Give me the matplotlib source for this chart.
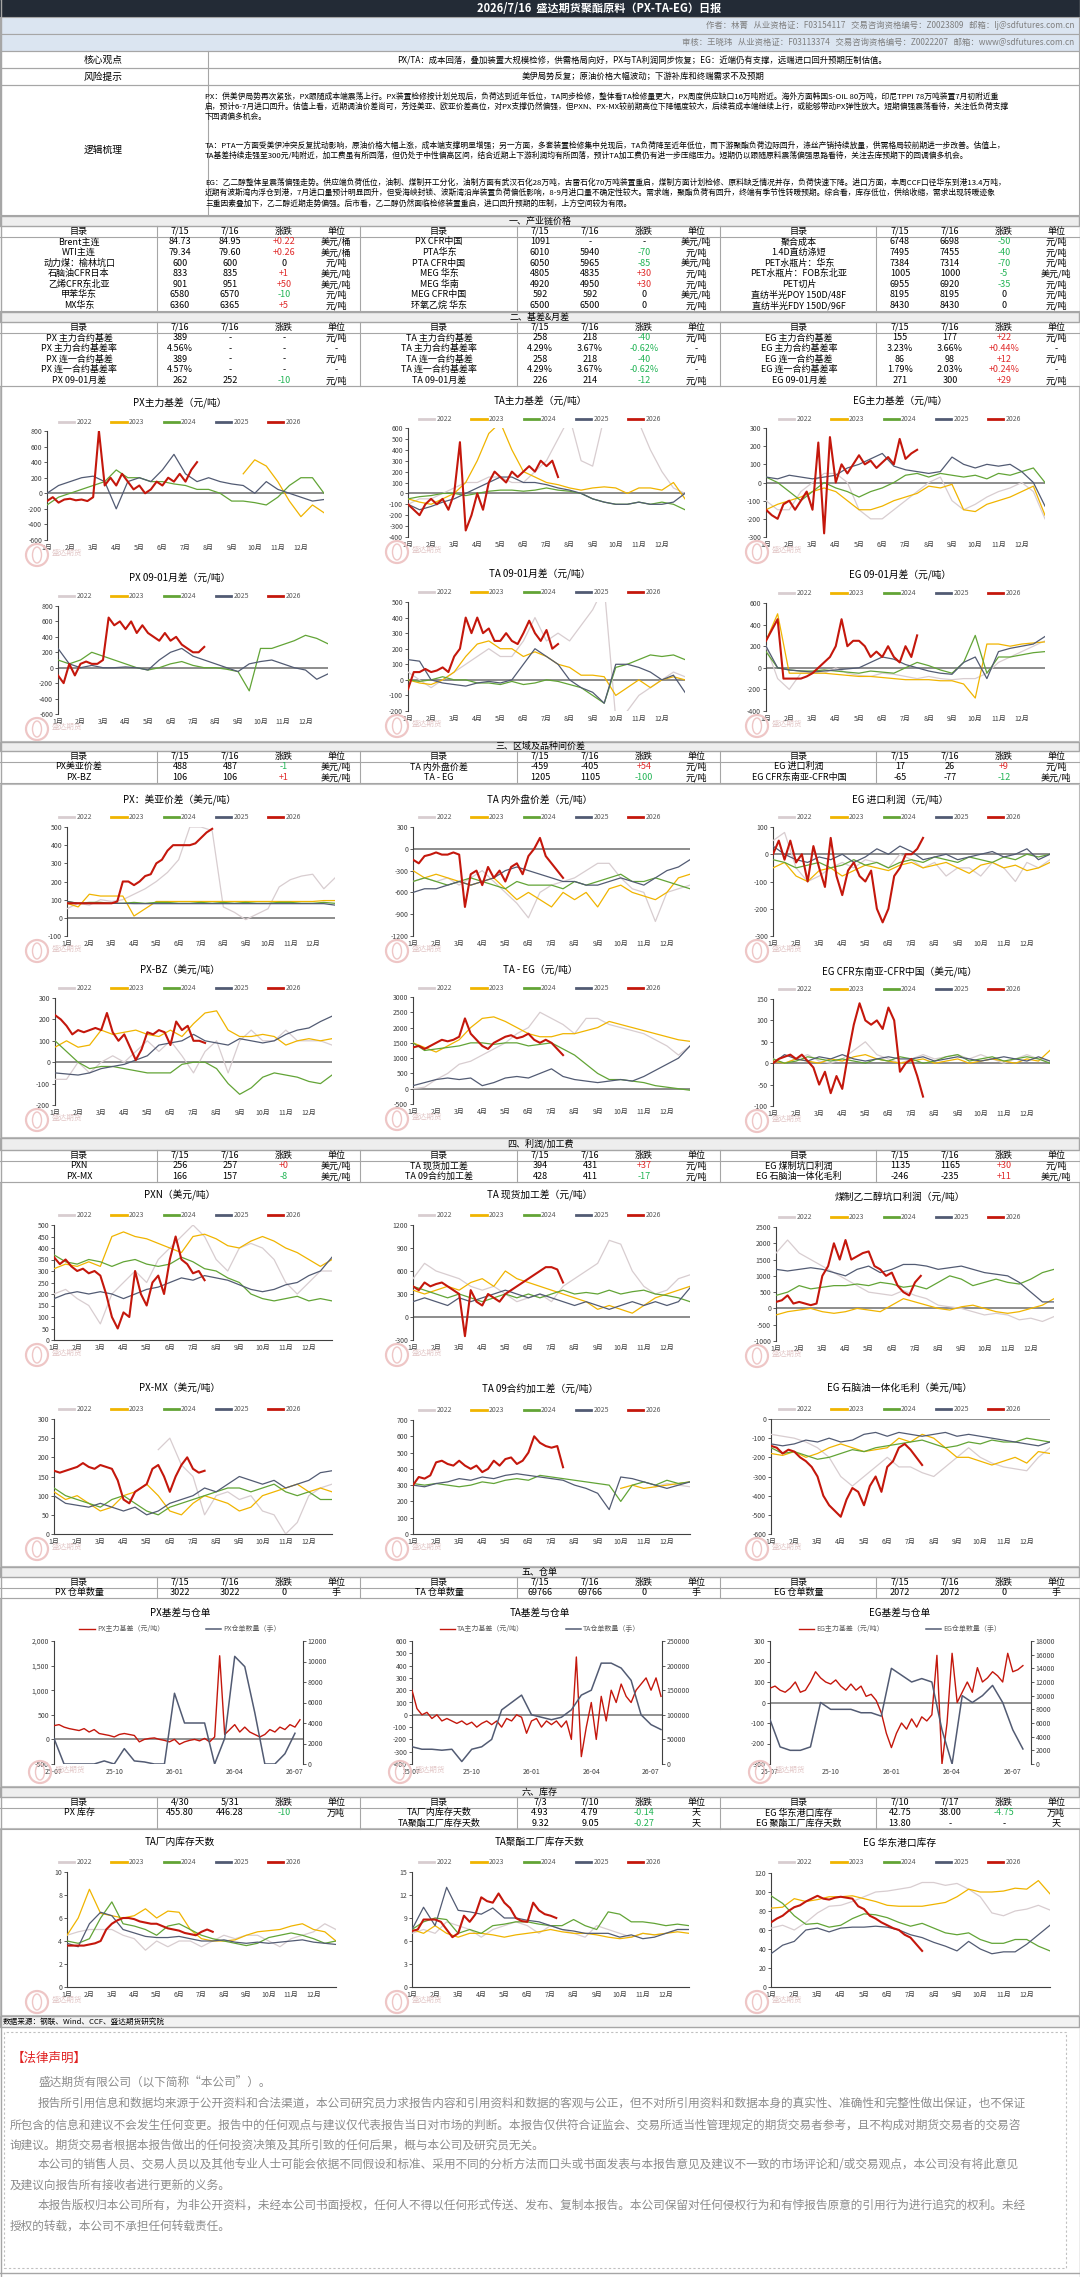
import numpy as np
import matplotlib
matplotlib.use('Agg')
import matplotlib.pyplot as plt
from matplotlib.patches import Rectangle, Ellipse
from matplotlib.lines import Line2D
from matplotlib.ticker import FuncFormatter

plt.rcParams['font.family'] = ['Noto Sans CJK SC', 'DejaVu Sans']
plt.rcParams['axes.unicode_minus'] = False

nan = np.nan

# ---------------- 表格数据 ----------------
sec1_rows = [
    [('Brent主连', '84.73', '84.95', '+0.22', '美元/桶'), ('PX CFR中国', '1091', '-', '-', '美元/吨'), ('聚合成本', '6748', '6698', '-50', '元/吨')],
    [('WTI主连', '79.34', '79.60', '+0.26', '美元/桶'), ('PTA华东', '6010', '5940', '-70', '元/吨'), ('1.4D直纺涤短', '7495', '7455', '-40', '元/吨')],
    [('动力煤：榆林坑口', '600', '600', '0', '元/吨'), ('PTA CFR中国', '6050', '5965', '-85', '美元/吨'), ('PET水瓶片：华东', '7384', '7314', '-70', '元/吨')],
    [('石脑油CFR日本', '833', '835', '+1', '美元/吨'), ('MEG 华东', '4805', '4835', '+30', '元/吨'), ('PET水瓶片：FOB东北亚', '1005', '1000', '-5', '美元/吨')],
    [('乙烯CFR东北亚', '901', '951', '+50', '美元/吨'), ('MEG 华南', '4920', '4950', '+30', '元/吨'), ('PET切片', '6955', '6920', '-35', '元/吨')],
    [('甲苯华东', '6580', '6570', '-10', '元/吨'), ('MEG CFR中国', '592', '592', '0', '美元/吨'), ('直纺半光POY 150D/48F', '8195', '8195', '0', '元/吨')],
    [('MX华东', '6360', '6365', '+5', '元/吨'), ('环氧乙烷 华东', '6500', '6500', '0', '元/吨'), ('直纺半光FDY 150D/96F', '8430', '8430', '0', '元/吨')],
]
sec2_rows = [
    [('PX 主力合约基差', '389', '-', '-', '元/吨'), ('TA 主力合约基差', '258', '218', '-40', '元/吨'), ('EG 主力合约基差', '155', '177', '+22', '元/吨')],
    [('PX 主力合约基差率', '4.56%', '-', '-', '-'), ('TA 主力合约基差率', '4.29%', '3.67%', '-0.62%', '-'), ('EG 主力合约基差率', '3.23%', '3.66%', '+0.44%', '-')],
    [('PX 连一合约基差', '389', '-', '-', '元/吨'), ('TA 连一合约基差', '258', '218', '-40', '元/吨'), ('EG 连一合约基差', '86', '98', '+12', '元/吨')],
    [('PX 连一合约基差率', '4.57%', '-', '-', '-'), ('TA 连一合约基差率', '4.29%', '3.67%', '-0.62%', '-'), ('EG 连一合约基差率', '1.79%', '2.03%', '+0.24%', '-')],
    [('PX 09-01月差', '262', '252', '-10', '元/吨'), ('TA 09-01月差', '226', '214', '-12', '元/吨'), ('EG 09-01月差', '271', '300', '+29', '元/吨')],
]
sec3_rows = [
    [('PX美亚价差', '488', '487', '-1', '美元/吨'), ('TA 内外盘价差', '-459', '-405', '+54', '元/吨'), ('EG 进口利润', '17', '26', '+9', '元/吨')],
    [('PX-BZ', '106', '106', '+1', '美元/吨'), ('TA - EG', '1205', '1105', '-100', '元/吨'), ('EG CFR东南亚-CFR中国', '-65', '-77', '-12', '美元/吨')],
]
sec4_rows = [
    [('PXN', '256', '257', '+0', '美元/吨'), ('TA 现货加工差', '394', '431', '+37', '元/吨'), ('EG 煤制坑口利润', '1135', '1165', '+30', '元/吨')],
    [('PX-MX', '166', '157', '-8', '美元/吨'), ('TA 09合约加工差', '428', '411', '-17', '元/吨'), ('EG 石脑油一体化毛利', '-246', '-235', '+11', '美元/吨')],
]
sec5_rows = [
    [('PX 仓单数量', '3022', '3022', '0', '手'), ('TA 仓单数量', '69766', '69766', '0', '手'), ('EG 仓单数量', '2072', '2072', '0', '手')],
]
sec6_rows = [
    [('PX 库存', '455.80', '446.28', '-10', '万吨'), ('TA厂内库存天数', '4.93', '4.79', '-0.14', '天'), ('EG 华东港口库存', '42.75', '38.00', '-4.75', '万吨')],
    [None, ('TA聚酯工厂库存天数', '9.32', '9.05', '-0.27', '天'), ('EG 聚酯工厂库存天数', '13.80', '-', '-', '天')],
]
hdr_std = ['目录', '7/15', '7/16', '涨跌', '单位']
hdr_sec2 = [['目录', '7/16', '7/16', '涨跌', '单位'], hdr_std, hdr_std]
hdr_sec6 = [['目录', '4/30', '5/31', '涨跌', '单位'], ['目录', '7/3', '7/10', '涨跌', '单位'], ['目录', '7/10', '7/17', '涨跌', '单位']]

# ---------------- 季节图数据（半月一点，2026年按周） ----------------
px_basis = {
    2023: [nan] * 17 + [250, 430, 350, 150, -100, -300, -150, -250],
    2024: [-150, -50, 0, 50, 100, 150, 300, 200, 200, 150, 150, 120, 100, 50, 50, 0, -100, -100, -120, -150, -50, 100, 200, 200, 0],
    2025: [0, 100, 150, 200, 220, 150, -200, 150, 200, 150, 300, 500, 250, 150, 200, 150, 120, 100, 0, 150, 50, 0, -50, -100, -80],
    2026: [-100, -50, -120, -80, -70, -90, -80, -100, -50, 800, 100, 200, 100, 250, 150, 50, 100, 0, 50, 150, 100, 200, 150, 250, 150, 300, 400],
}
ta_basis = {
    2022: [-100, -50, -50, 0, 50, 100, 100, 150, 150, 100, 100, 200, 300, 500, 700, 300, 250, 700, 700, 700, 650, 400, 200, 50, 0],
    2023: [-50, -80, -100, -50, 0, 100, 300, 550, 650, 400, 200, 150, 100, 80, 50, 30, 50, 60, 50, 0, 50, 50, 30, 100, -50],
    2024: [-50, -30, -20, 0, 0, -20, 0, 20, 30, 30, 20, 30, 50, 30, 20, 0, -50, -80, -100, -100, -80, -100, -80, -100, -150],
    2025: [-100, -150, -120, -80, -50, 0, 50, 100, 150, 150, 100, 100, 80, 50, 30, 0, -50, -80, -100, -100, -80, -100, -100, -80, 0],
    2026: [-100, -150, -200, -100, -50, -100, -50, -150, 0, 470, -340, -200, 0, -150, 100, 200, 150, 100, 200, 150, 200, 250, 200, 300, 250, 300, 150],
}
eg_basis = {
    2022: [-100, -150, -150, -50, 0, 50, 50, 0, -150, -200, -200, -150, -100, -50, 0, 30, -100, -150, -120, -80, -50, -30, 0, -50, -200],
    2023: [-150, -120, -100, -80, -50, -30, -50, -100, -150, -150, -130, -100, -80, -60, -20, -30, -10, -150, -160, -120, -100, -80, -50, -20, -180],
    2024: [30, 0, -50, -100, -50, 0, -30, -50, -80, -50, -30, 0, 40, 50, 30, 50, 40, 30, 40, 20, 50, 40, 60, 80, 0],
    2025: [30, 20, 40, 30, 20, 30, 40, 80, 100, 130, 160, 90, 70, 60, 50, 60, 140, 100, 80, 100, 90, 100, 60, 0, -130],
    2026: [-150, -180, -200, -120, -100, -150, -100, -50, -150, 220, -280, 250, 0, 100, 50, 100, 150, 100, 120, 80, 110, 140, 100, 240, 130, 160, 180],
}
px_spread = {
    2024: [100, 50, 100, 200, 150, 100, 50, 0, -30, 0, 50, 80, 30, 0, 0, -20, -50, -300, 250, 250, 300, 350, 420, 380, 310],
    2025: [250, 50, 0, 30, 0, 0, 10, 0, -30, 100, 200, 250, 150, 100, 50, 0, -50, 50, 80, 100, 50, 0, -30, -150, -80],
    2026: [-100, -200, 50, -100, 50, 80, 50, 50, 100, 650, 550, 600, 500, 600, 450, 550, 450, 400, 350, 450, 350, 400, 300, 250, 200, 200, 270],
}
ta_spread = {
    2022: [50, 0, -50, 0, 50, 100, 150, 200, 150, 150, 250, 400, 250, 300, 250, 350, 450, 600, -250, -200, -100, -50, 0, 50, 20],
    2023: [0, -20, -30, 0, 50, 150, 230, 250, 200, 200, 150, 180, 150, 100, 80, 30, 30, 20, -100, -50, 0, -50, 0, 20, 0],
    2024: [0, -10, 0, 20, 0, 0, -20, -20, -30, -10, -30, -20, 0, -10, -30, -50, -100, -150, 80, 100, 130, 160, 150, 160, 130],
    2025: [130, 120, 0, -20, -30, -40, -20, -10, -20, 0, 100, 200, 150, 100, 0, -50, -80, -150, 100, 100, 80, 50, 0, 30, -80],
    2026: [-60, 50, 50, 70, 50, 60, 80, 50, 150, 200, 400, 300, 400, 300, 330, 250, 250, 300, 250, 230, 300, 380, 300, 250, 320, 200, 230],
}
eg_spread = {
    2022: [200, -100, -200, -50, -50, -50, 0, -50, -70, -80, -50, -60, -80, -100, -80, -100, -110, -100, -100, -50, 50, 100, 150, 200, 250],
    2023: [250, 500, -50, -50, -50, -50, -60, -70, -80, -80, -90, -100, -110, -110, -110, -120, -120, -150, -280, 220, 220, 200, 220, 230, 240],
    2024: [150, 0, -20, -30, -30, -20, -30, -40, -50, -30, -40, -50, 0, 50, 20, -20, -50, 50, 300, -50, 100, 100, 120, 140, 150],
    2025: [200, 0, -20, -30, -40, -30, -20, -10, 0, 50, 100, 80, 30, 0, -30, -50, -60, 50, 100, -100, 150, 180, 200, 220, 290],
    2026: [250, 350, 450, -100, -100, -100, -100, -80, -50, 0, 50, 100, 200, 450, 200, 250, 250, 200, 100, 150, 100, 200, 100, 50, 200, 100, 300],
}
px_asia = {
    2022: [50, 80, 70, 100, 90, 100, 130, 160, 200, 250, 320, 500, 500, 480, 60, 30, -10, 20, 50, 170, 210, 230, 240, 160, 220],
    2023: [80, 60, 130, 120, 120, 120, 10, 50, 90, 90, 90, 90, 90, 90, 90, 90, 90, 90, 90, 90, 90, 90, 90, 95, 95],
    2024: [90, 80, 85, 85, 80, 80, 85, 80, 85, 85, 80, 80, 85, 80, 85, 80, 85, 80, 80, 85, 85, 80, 80, 85, 80],
    2025: [90, 80, 80, 80, 80, 80, 78, 78, 78, 78, 78, 78, 78, 78, 78, 78, 78, 78, 78, 78, 78, 78, 78, 78, 70],
    2026: [80, 80, 80, 80, 80, 80, 80, 80, 80, 90, 200, 200, 180, 200, 230, 240, 300, 320, 370, 400, 400, 400, 400, 410, 440, 470, 490],
}
ta_inout = {
    2022: [-450, -400, -450, -400, -500, -400, -300, -450, -600, -750, -950, -600, -500, -450, -400, -300, -200, -200, -400, -550, -600, -1000, -600, -550, -500],
    2023: [-300, -400, -350, -400, -450, -500, -450, -400, -550, -700, -600, -700, -800, -600, -700, -600, -800, -550, -500, -600, -650, -700, -600, -400, -350],
    2024: [-450, -400, -450, -500, -450, -400, -450, -500, -550, -450, -500, -500, -500, -550, -450, -500, -450, -400, -350, -450, -450, -400, -450, -500, -550],
    2025: [-600, -550, -550, -500, -450, -500, -450, -400, -300, -250, -300, -350, -400, -450, -450, -500, -500, -450, -400, -450, -500, -400, -300, -250, -150],
    2026: [-150, -200, -100, -80, -50, -80, -80, -50, -80, -800, -350, -300, -500, -250, -400, -300, -450, -250, -200, -350, -100, 0, 150, -100, -200, -300, -400],
}
eg_import = {
    2022: [50, 80, -50, -100, -80, -50, -30, -50, -20, -30, -50, 0, -20, -50, -30, -80, -50, -50, -80, -30, -50, -100, -30, -50, -20],
    2023: [-50, -30, -80, -100, -60, -50, -80, -60, -40, -50, -60, -40, -30, -50, -40, -30, -50, -70, -40, -30, -50, -40, -60, -50, -30],
    2024: [-20, -30, -50, -40, -30, -50, -40, -20, -40, -30, -50, -30, -20, -30, -10, -20, -30, -10, -20, -30, -10, -20, 0, -10, 0],
    2025: [30, 0, -20, -30, -10, -20, 0, -30, -10, 20, 0, 30, 10, -20, -10, 0, -20, -10, 0, 10, -10, 0, 20, -20, 0],
    2026: [0, 50, -20, 50, -30, 0, -100, 30, -50, -120, 60, -80, -150, -60, -30, -80, -100, -60, -200, -250, -200, -80, -50, 0, 0, 20, 60],
}
px_bz = {
    2022: [-80, -80, 0, -50, 0, 30, 0, 50, 100, 50, 100, 30, -50, 50, 100, -50, 100, 150, 100, 100, 150, 100, 100, 100, 80],
    2023: [70, 100, 70, 80, 150, 130, 140, 150, 130, 120, 150, 120, 180, 230, 240, 150, 120, 120, 130, 120, 80, 100, 110, 100, 110],
    2024: [100, 50, 0, -30, -20, -20, -30, -40, -50, -50, -50, -10, 0, 0, -30, -100, -150, -120, -70, -50, -60, -70, -90, -100, -60],
    2025: [-50, -55, -60, -50, -30, -20, -10, 10, 30, 80, 90, 100, 130, 100, 90, 80, 110, 100, 90, 100, 130, 150, 160, 190, 215],
    2026: [220, 200, 170, 130, 150, 140, 150, 160, 150, 230, 140, 100, 130, 70, 10, 60, 140, 130, 150, 140, 80, 190, 150, 170, 100, 100, 90],
}
ta_eg = {
    2022: [0, 50, 300, 500, 800, 900, 1100, 1300, 1500, 1800, 2000, 2500, 2300, 2100, 1800, 2300, 2300, 2100, 2000, 1900, 1800, 1600, 1400, 1100, 1400],
    2023: [1500, 1350, 1200, 1400, 1600, 2000, 2300, 2350, 2200, 2000, 1800, 1700, 1700, 1800, 1800, 1900, 2000, 2200, 2100, 2000, 1900, 1800, 1700, 1600, 1550],
    2024: [1500, 1250, 1300, 1350, 1400, 1500, 1500, 1450, 1500, 1500, 1400, 1450, 1500, 1300, 1100, 800, 500, 300, 300, 250, 200, 100, 50, 0, -50],
    2025: [100, 200, 300, 350, 300, 350, 100, 200, 350, 400, 350, 500, 650, 400, 300, 250, 200, 250, 300, 250, 400, 600, 800, 1000, 1400],
    2026: [1350, 1400, 1300, 1400, 1500, 1600, 1550, 1600, 1700, 2300, 1800, 1600, 1400, 1300, 1500, 1600, 1700, 1750, 1650, 1700, 1800, 1600, 1500, 1600, 1500, 1300, 1100],
}
eg_sea = {
    2022: [10, 0, 10, 20, 5, 0, 10, 30, 50, 20, 10, 0, 10, 20, 10, 15, 20, 10, 20, 10, 0, 10, 20, 10, 5],
    2023: [5, 0, 10, 5, 0, 10, 5, 15, 20, 10, 5, 0, 5, 10, 0, 5, 10, 0, 5, 10, 5, 0, 10, 5, 30],
    2024: [10, 0, 5, 15, 10, 5, 10, 5, 0, 10, 5, 15, 10, 0, 5, 15, 20, 5, 10, 15, 5, 10, 15, 10, 0],
    2025: [0, 20, 10, 5, 15, 10, 20, 10, 5, 10, 15, 10, 10, 15, 5, 10, 15, 10, 5, 10, 15, 10, 5, 15, 5],
    2026: [0, 10, 15, 20, 10, 20, 5, -10, -50, -20, -70, -30, -60, 20, 90, 140, 100, 90, 100, 80, 130, 100, -20, 0, 10, -30, -78],
}
pxn = {
    2022: [200, 220, 180, 150, 70, 200, 250, 300, 250, 350, 400, 450, 500, 450, 350, 300, 400, 420, 400, 350, 250, 200, 250, 300, 300],
    2023: [310, 330, 320, 340, 320, 450, 470, 450, 440, 420, 400, 380, 450, 460, 440, 410, 400, 430, 450, 430, 400, 380, 350, 320, 350],
    2024: [370, 340, 330, 350, 340, 320, 340, 350, 330, 320, 330, 360, 340, 310, 300, 270, 250, 200, 180, 170, 180, 190, 170, 180, 170],
    2025: [180, 200, 210, 200, 210, 200, 180, 200, 220, 230, 250, 270, 260, 280, 270, 260, 240, 220, 210, 220, 240, 250, 280, 300, 360],
    2026: [360, 330, 350, 320, 300, 310, 290, 300, 280, 200, 100, 50, 120, 100, 300, 200, 150, 250, 280, 200, 350, 450, 350, 330, 290, 300, 260],
}
ta_proc = {
    2022: [500, 700, 600, 550, 500, 400, 350, 400, 300, 200, 250, 300, 200, 400, 500, 600, 700, 1000, 950, 600, 400, 300, 350, 500, 550],
    2023: [350, 300, 350, 400, 350, 450, 500, 400, 600, 500, 450, 400, 350, 300, 250, 200, 100, 150, 100, 50, 150, 250, 300, 350, 400],
    2024: [400, 350, 300, 250, 300, 250, 200, 250, 300, 250, 300, 250, 300, 350, 300, 320, 300, 350, 300, 330, 350, 300, 280, 250, 200],
    2025: [200, 250, 200, 150, 250, 200, 250, 300, 350, 300, 250, 300, 250, 200, 150, 200, 150, 100, 150, 200, 150, 200, 150, 200, 380],
    2026: [400, 350, 450, 400, 430, 450, 400, 350, 300, -250, 350, 200, 150, 300, 250, 200, 300, 350, 400, 450, 500, 550, 600, 650, 650, 620, 450],
}
eg_coal = {
    2022: [1700, 2100, 1700, 1500, 1300, 1100, 900, 700, 500, 450, 400, 550, 400, 300, 100, 50, 0, -100, -200, -150, -200, -350, -300, -400, -250],
    2023: [-200, -100, -50, 0, -100, -150, -100, 0, -50, -100, 100, 300, 200, 100, 0, -50, 50, 100, 0, -100, -150, -100, 0, 100, 300],
    2024: [400, 500, 700, 600, 650, 700, 700, 750, 700, 800, 750, 650, 700, 600, 800, 1000, 900, 700, 800, 900, 800, 750, 900, 1100, 1200],
    2025: [1200, 1150, 1200, 1250, 1200, 1100, 1000, 1200, 1300, 1100, 1200, 1350, 1350, 1300, 1200, 1250, 1300, 1200, 1100, 1050, 1000, 800, 500, 200, 200],
    2026: [200, 250, 400, 150, 200, 150, 100, 150, 1000, 1300, 2000, 1500, 2100, 1500, 1600, 1700, 1750, 1300, 1200, 1000, 1100, 700, 500, 400, 800, 1000],
}
px_mx = {
    2022: [nan] * 9 + [220, 250, 180, 150, 50, 100, 110, 90, 100, 60, 50, 0, 30, 100, 120, 130],
    2023: [110, 90, 100, 80, 60, 70, 100, 110, 130, 100, 60, 50, 80, 100, 90, 80, 60, 70, 100, 110, 120, 130, 110, 120, 110],
    2024: [120, 100, 90, 80, 70, 90, 100, 80, 60, 50, 70, 80, 90, 100, 110, 120, 120, 110, 120, 130, 110, 100, 110, 90, 90],
    2025: [100, 80, 75, 70, 80, 70, 60, 70, 50, 60, 80, 90, 100, 120, 110, 130, 150, 140, 130, 140, 120, 130, 140, 160, 165],
    2026: [165, 160, 165, 170, 175, 185, 175, 170, 180, 175, 170, 140, 90, 80, 110, 120, 130, 170, 180, 150, 110, 150, 180, 200, 170, 160, 165],
}
ta_09proc = {
    2022: [nan] * 21 + [290, 310, 300, 290],
    2023: [nan] * 18 + [280, 300, 280, 290, 300, 310, 320],
    2024: [310, 300, 310, 300, 290, 300, 320, 310, 330, 340, 330, 360, 350, 340, 330, 320, 310, 300, 200, 300, 320, 300, 330, 310, 320],
    2025: [300, 290, 310, 320, 340, 330, 350, 340, 360, 370, 360, 350, 340, 330, 300, 280, 250, 150, 350, 340, 320, 300, 280, 300, 320],
    2026: [300, 350, 340, 360, 440, 450, 430, 420, 450, 420, 400, 420, 380, 400, 450, 420, 460, 470, 430, 450, 500, 600, 560, 540, 530, 540, 410],
}
eg_naph = {
    2022: [-80, -90, -100, -120, -150, -200, -300, -350, -300, -250, -200, -250, -250, -280, -300, -250, -200, -150, -200, -230, -250, -260, -270, -200, -150],
    2023: [-180, -190, -170, -200, -180, -150, -130, -150, -170, -160, -150, -100, -120, -80, -100, -150, -200, -200, -220, -240, -220, -200, -230, -170, -180],
    2024: [-150, -180, -170, -190, -210, -200, -180, -160, -170, -150, -140, -130, -120, -110, -130, -150, -140, -120, -130, -110, -120, -120, -100, -110, -120],
    2025: [-130, -140, -130, -110, -120, -100, -120, -110, -80, -70, -90, -70, -80, -90, -80, -70, -90, -80, -90, -100, -110, -120, -130, -140, -120],
    2026: [-140, -150, -180, -160, -170, -200, -220, -250, -300, -400, -450, -480, -510, -420, -360, -380, -450, -350, -300, -380, -250, -220, -150, -130, -160, -200, -240],
}
ta_days = {
    2022: [4.5, 4.8, 5.0, 5.0, 5.0, 4.5, 4.2, 3.2, 4.0, 3.5, 4.0, 4.0, 3.5, 4.0, 4.5, 4.2, 4.5, 4.5, 4.0, 3.5, 4.2, 4.5, 4.8, 5.5, 5.0],
    2023: [4.5, 6.0, 8.5, 6.4, 6.2, 6.0, 6.2, 6.8, 6.0, 6.6, 6.5, 5.0, 4.2, 4.0, 4.0, 4.1, 4.5, 4.8, 4.9, 5.0, 5.3, 5.5, 5.0, 4.8, 4.0],
    2024: [4.0, 3.8, 4.2, 6.0, 7.4, 5.5, 5.3, 5.0, 4.5, 5.3, 5.5, 5.0, 4.5, 4.2, 4.0, 3.8, 3.6, 3.8, 4.3, 4.5, 4.7, 4.5, 4.2, 3.8, 4.0],
    2025: [3.8, 3.5, 5.5, 6.5, 6.2, 5.0, 4.7, 4.4, 4.3, 4.3, 4.4, 4.2, 4.0, 4.0, 4.1, 3.9, 3.8, 3.9, 3.8, 3.9, 4.0, 4.1, 3.9, 3.8, 3.7],
    2026: [3.6, 3.6, 3.6, 3.6, 3.7, 3.8, 4.0, 5.0, 5.5, 5.8, 6.0, 6.0, 5.9, 5.7, 5.6, 5.5, 5.5, 5.3, 5.1, 5.0, 4.9, 4.7, 4.6, 4.5, 4.8, 5.0, 4.8],
}
ta_poly_days = {
    2022: [7.0, 7.5, 7.0, 8.5, 8.0, 7.5, 6.5, 7.5, 8.0, 8.5, 8.0, 7.0, 8.0, 7.5, 7.0, 6.5, 8.0, 7.5, 7.0, 6.5, 7.0, 6.8, 7.0, 7.5, 7.5],
    2023: [7.5, 7.0, 8.0, 7.0, 6.5, 7.0, 7.0, 6.8, 6.5, 6.8, 7.0, 7.2, 7.5, 7.2, 7.0, 7.0, 6.8, 6.5, 6.3, 6.5, 7.0, 6.8, 7.0, 7.2, 7.0],
    2024: [7.5, 8.5, 9.0, 8.8, 7.0, 7.5, 7.0, 8.0, 8.2, 8.5, 8.5, 8.2, 8.0, 8.0, 8.8, 8.0, 7.5, 9.8, 9.5, 8.5, 8.5, 8.3, 8.0, 8.2, 8.0],
    2025: [7.5, 10.4, 8.0, 13.0, 10.0, 9.8, 9.5, 10.3, 9.0, 9.0, 8.7, 8.5, 8.0, 7.5, 7.3, 7.0, 7.0, 7.0, 6.5, 6.8, 6.3, 6.5, 7.0, 7.5, 7.5],
    2026: [7.3, 7.5, 8.8, 8.8, 8.8, 8.5, 7.5, 6.5, 7.0, 9.3, 8.5, 9.5, 11.7, 11.2, 11.0, 12.2, 11.0, 10.3, 9.0, 8.6, 8.5, 11.0, 10.0, 9.5, 9.3, 9.0],
}
eg_port = {
    2022: [62, 65, 60, 68, 78, 85, 86, 90, 95, 100, 101, 103, 105, 110, 110, 107, 109, 103, 95, 78, 75, 80, 82, 86, 81],
    2023: [83, 84, 93, 90, 92, 95, 95, 96, 93, 90, 86, 85, 85, 85, 87, 89, 95, 103, 100, 100, 101, 104, 103, 112, 98],
    2024: [96, 88, 75, 66, 67, 63, 65, 72, 77, 76, 73, 68, 64, 67, 62, 57, 55, 57, 50, 46, 46, 50, 50, 43, 38],
    2025: [35, 44, 48, 60, 62, 58, 62, 63, 63, 64, 63, 60, 55, 52, 47, 43, 38, 48, 40, 35, 37, 37, 45, 55, 65],
    2026: [68, 72, 75, 80, 84, 86, 90, 93, 96, 93, 92, 94, 95, 94, 93, 85, 82, 75, 72, 68, 65, 62, 60, 55, 52, 45, 38],
}

# ---------------- 基差与仓单（自25-07起，基差按周，仓单按半月） ----------------
px_wr_basis = [280, 300, 250, 220, 200, 180, 220, 150, 200, 120, 100, 80, 50, 100, 120, 100, 80, -50, 0, 20,
               30, 0, -20, -50, 0, -100, -50, -20, 0, -30, 20, -50, 50, 1700, 100, 200, 300, 150, 250, 150,
               100, 50, 100, 200, 150, 250, 200, 300, 250, 400]
px_wr_qty = [2500, 0, 0, 0, 0, 300, 0, 1500, 300, 200, 0, 0, 6900, 4000, 4000, 4000, 0, 2500, 10500, 9500, 5000, 0, 0, 1000, 3000]
ta_wr_basis = [200, 50, 0, 20, -30, 0, -50, -30, -50, -70, -50, -80, -60, -100, -70, -50, -80, -50, -100, -30,
               -50, 0, -20, -150, -50, -30, -100, -50, -80, -50, -100, -50, -200, 470, -340, -100, 100, -200, 150, -50,
               200, 100, 250, 150, 100, 200, 250, 300, 200, 300, 150]
ta_wr_qty = [35000, 30000, 30000, 28000, 30000, 5000, 30000, 35000, 50000, 110000, 125000, 140000, 100000, 95000, 90000,
             95000, 110000, 140000, 150000, 205000, 205000, 195000, 170000, 100000, 80000, 70000]
eg_wr_basis = [70, 80, 60, 50, 70, 100, 50, 60, 100, 150, 120, 100, 90, 110, 80, 60, 90, 60, 80, 30,
               40, 10, -50, -150, -220, -150, -100, -130, -80, -120, -70, -90, -60, 230, -300, -100, 240, 0, 50, 100,
               50, 170, 100, 120, 150, 130, 100, 240, 150, 160, 180]
eg_wr_qty = [6500, 2500, 2000, 2000, 2500, 9000, 8000, 8000, 8000, 7500, 7500, 7000, 14000, 13000, 12000, 12500,
             12000, 5000, 0, 10000, 9000, 10000, 11500, 9000, 5000, 2200]
wr_ticks = ['25-07', '25-10', '26-01', '26-04', '26-07']

YEARS = [2022, 2023, 2024, 2025, 2026]
COLORS = {2022: '#d8cdd0', 2023: '#f0b400', 2024: '#62a436', 2025: '#525b73', 2026: '#c4170c'}
MONTHS = ['%d月' % m for m in range(1, 13)]
RED = '#c4170c'
SLATE = '#525b73'

# ---------------- 画布 ----------------
W, H = 1080, 2277
fig = plt.figure(figsize=(10.8, 22.77), dpi=100)
fig.patch.set_facecolor('white')


def rect(x0, y0, x1, y1, fc='none', ec='#bfbfbf', lw=0.8, ls='-'):
    fig.add_artist(Rectangle((x0 / W, 1 - y1 / H), (x1 - x0) / W, (y1 - y0) / H, transform=fig.transFigure,
                             facecolor=fc, edgecolor=ec, lw=lw, ls=ls))


def line(x0, y0, x1, y1, c='#bfbfbf', lw=0.8):
    fig.add_artist(Line2D([x0 / W, x1 / W], [1 - y0 / H, 1 - y1 / H], transform=fig.transFigure, color=c, lw=lw))


def txt(x, y, s, size=6.5, ha='center', color='black', weight='normal'):
    fig.text(x / W, 1 - y / H, s, ha=ha, va='center', fontsize=size, color=color, fontweight=weight)


def chg_color(s):
    if s.startswith('+'):
        return '#e02b2b'
    if s.startswith('-') and len(s) > 1:
        return '#22b455'
    return 'black'


COLX = [79, 180, 230, 284, 336]


def section(y0, y1, label):
    rect(0, y0, W - 1, y1, fc='#eeeeee', ec='#a6a6a6', lw=1.0)
    txt(W / 2, (y0 + y1) / 2, label, 6.5)


def table(y0, headers, rows, rh=10.6):
    y = y0
    for b in range(3):
        for k, s in enumerate(headers[b]):
            txt(b * 360 + COLX[k], y + rh / 2, s, 6.5)
    line(0, y + rh, W, y + rh, c='#a6a6a6')
    y += rh
    for row in rows:
        for b, cell in enumerate(row):
            if cell is None:
                continue
            for k, s in enumerate(cell):
                c = chg_color(s) if k == 3 else 'black'
                txt(b * 360 + COLX[k], y + rh / 2, s, 6.5, color=c)
        y += rh
    for xv in [157, 360, 517, 720, 876]:
        line(xv, y0, xv, y, c='#a6a6a6')
    line(0, y, W, y, c='#a6a6a6')
    return y


def logo(x, y):
    fig.add_artist(Ellipse((x / W, 1 - y / H), 22 / W, 22 / H, transform=fig.transFigure,
                           fill=False, ec='#eec6c6', lw=1.6))
    fig.add_artist(Ellipse((x / W, 1 - y / H), 9 / W, 16 / H, transform=fig.transFigure,
                           fill=False, ec='#eec6c6', lw=1.0))
    fig.text((x + 15) / W, 1 - (y - 2) / H, '盛达期货', fontsize=5.5, color='#e2c6c6', va='center')


def make_ax(box):
    x0, y0, x1, y1 = box
    ax = fig.add_axes([x0 / W, 1 - y1 / H, (x1 - x0) / W, (y1 - y0) / H])
    ax.set_facecolor('none')
    for s in ['top', 'right', 'bottom']:
        ax.spines[s].set_visible(False)
    ax.spines['left'].set_color('#404040')
    ax.spines['left'].set_linewidth(0.8)
    ax.tick_params(axis='y', labelsize=5, length=2, width=0.6, pad=1.5, colors='#404040')
    ax.tick_params(axis='x', labelsize=5, length=0, pad=3, colors='#404040')
    return ax


def seasonal(col, box, title, ty, ly, data, lo, hi, step):
    ax = make_ax(box)
    for yr in YEARS:
        vals = np.array(data.get(yr, []), dtype=float)
        dx = 0.25 if yr == 2026 else 0.5
        xs = np.arange(len(vals)) * dx
        ax.plot(xs, vals, color=COLORS[yr], lw=1.5 if yr == 2026 else 0.9, label=str(yr),
                zorder=4 if yr == 2026 else 3)
    if lo == 0:
        ax.spines['bottom'].set_visible(True)
        ax.spines['bottom'].set_color('#404040')
        ax.spines['bottom'].set_linewidth(0.8)
    else:
        ax.axhline(0, color='#8c8c8c', lw=1.4, zorder=2)
    ax.set_xlim(0, 12)
    ax.set_ylim(lo, hi)
    ax.set_yticks(np.arange(lo, hi + step / 2, step))
    ax.set_xticks(range(12))
    ax.set_xticklabels(MONTHS)
    cx = col * 360 + 180
    txt(cx, ty, title, 7)
    leg = ax.legend(loc='center', bbox_to_anchor=(cx / W, 1 - ly / H), bbox_transform=fig.transFigure, ncol=5,
                    frameon=False, fontsize=5, handlelength=2.2, columnspacing=2.8, handletextpad=0.3)
    for t in leg.get_texts():
        t.set_color('#595959')
    for h in leg.legend_handles:
        h.set_linewidth(2.0)
    logo(col * 360 + 37, box[3] + 15)
    return ax


def warrant(col, box, name, basis, qty, lo, hi, step, rhi, rstep, xmax, comma=False):
    ax = make_ax(box)
    xb = np.arange(len(basis)) * 0.25
    xq = np.arange(len(qty)) * 0.5
    ax.axhline(0, color='#7f7f7f', lw=1.2, zorder=1)
    l1, = ax.plot(xb, basis, color=RED, lw=1.0, zorder=3, label=name + '主力基差（元/吨）')
    ax.set_ylim(lo, hi)
    ax.set_yticks(np.arange(lo, hi + step / 2, step))
    if comma:
        ax.yaxis.set_major_formatter(FuncFormatter(lambda v, p: '{:,.0f}'.format(v)))
    ax.set_xlim(0, xmax)
    ax.set_xticks([0, 3, 6, 9, 12])
    ax.set_xticklabels(wr_ticks)
    ax2 = ax.twinx()
    for s in ['top', 'left', 'bottom']:
        ax2.spines[s].set_visible(False)
    ax2.spines['right'].set_color('#404040')
    ax2.spines['right'].set_linewidth(0.8)
    l2, = ax2.plot(xq, qty, color=SLATE, lw=1.1, zorder=2, label=name + '仓单数量（手）')
    ax2.set_ylim(0, rhi)
    ax2.set_yticks(np.arange(0, rhi + rstep / 2, rstep))
    ax2.tick_params(axis='y', labelsize=5, length=2, width=0.6, pad=1.5, colors='#404040')
    cx = col * 360 + 180
    txt(cx, 1613, name + '基差与仓单', 7)
    leg = ax.legend(handles=[l1, l2], loc='center', bbox_to_anchor=(cx / W, 1 - 1629 / H),
                    bbox_transform=fig.transFigure, ncol=2, frameon=False, fontsize=5,
                    handlelength=2.2, columnspacing=6, handletextpad=0.3)
    for t in leg.get_texts():
        t.set_color('#595959')
    logo(col * 360 + 40, 1772)


# ---------------- 页眉与观点 ----------------
rect(0, 0, W, 17, fc='#232b36', ec='#232b36')
txt(599, 8.5, '2026/7/16  盛达期货聚酯原料（PX-TA-EG）日报', 8, color='white', weight='bold')
rect(0, 17, W - 1, 34, fc='#dbe5f1', ec='#a6a6a6')
rect(0, 34, W - 1, 51, fc='#dbe5f1', ec='#a6a6a6')
txt(1074, 25.5, '作者：林菁   从业资格证：F03154117   交易咨询资格编号：Z0023809   邮箱：lj@sdfutures.com.cn', 6,
    ha='right', color='#7f7f7f')
txt(1074, 42.5, '审核：王晓玮   从业资格证：F03113374   交易咨询资格编号：Z0022207   邮箱：www@sdfutures.com.cn', 6,
    ha='right', color='#7f7f7f')
for y0, y1 in [(51, 68), (68, 85), (85, 215)]:
    rect(0, y0, W - 1, y1, ec='#a6a6a6')
line(208, 51, 208, 215, c='#a6a6a6')
txt(103, 59.5, '核心观点', 7)
txt(103, 76.5, '风险提示', 7)
txt(103, 150, '逻辑梳理', 7)
txt(642, 59.5, 'PX/TA：成本回落，叠加装置大规模检修，供需格局向好，PX与TA利润同步恢复；EG：近端仍有支撑，远端进口回升预期压制估值。', 6.0)
txt(643, 76.5, '美伊局势反复；原油价格大幅波动；下游补库和终端需求不及预期', 6.0)

logic_lines = [
    (97, 'PX：供美伊局势再次紧张，PX跟随成本端震荡上行。PX装置检修按计划兑现后，负荷达到近年低位，TA同步检修，整体看TA检修量更大，PX周度供应缺口16万吨附近。海外方面韩国S-OIL 80万吨，印尼TPPI 78万吨装置7月初附近重'),
    (107, '启，预计6-7月进口回升。估值上看，近期调油价差尚可，芳烃美亚、欧亚价差高位，对PX支撑仍然偏强，但PXN、PX-MX较前期高位下降幅度较大，后续若成本端继续上行，或能够带动PX弹性放大。短期偏强震荡看待，关注低负荷支撑'),
    (117, '下回调偏多机会。'),
    (146, 'TA：PTA一方面受美伊冲突反复扰动影响，原油价格大幅上涨，成本端支撑明显增强；另一方面，多套装置检修集中兑现后，TA负荷降至近年低位，而下游聚酯负荷边际回升，涤丝产销持续放量，供需格局较前期进一步改善。估值上，'),
    (156, 'TA基差持续走强至300元/吨附近，加工费虽有所回落，但仍处于中性偏高区间，结合近期上下游利润均有所回落，预计TA加工费仍有进一步压缩压力。短期仍以跟随原料震荡偏强思路看待，关注去库预期下的回调偏多机会。'),
    (183, 'EG：乙二醇整体呈震荡偏强走势。供应端负荷低位，油制、煤制开工分化，油制方面有武汉石化28万吨，古雷石化70万吨装置重启，煤制方面计划检修、原料缺乏情况并存，负荷快速下降。进口方面，本周CCF口径华东到港13.4万吨，'),
    (193, '近期有波斯湾内浮仓到港，7月进口量预计明显回升，但受海峡封锁、波斯湾沿岸装置负荷偏低影响，8-9月进口量不确定性较大。需求端，聚酯负荷有回升，终端有季节性转暖预期。综合看，库存低位，供给收缩，需求出现转暖迹象'),
    (204, '三重因素叠加下，乙二醇近期走势偏强。后市看，乙二醇仍然面临检修装置重启，进口回升预期的压制，上方空间较为有限。'),
]
for yy, s in logic_lines:
    txt(205, yy, s, 5.6, ha='left')

# ---------------- 一、产业链价格 ----------------
section(216, 226, '一、产业链价格')
table(226, [hdr_std] * 3, sec1_rows)

# ---------------- 二、基差&月差 ----------------
section(312, 322, '二、基差&月差')
table(322, hdr_sec2, sec2_rows)
rect(0, 386, W - 1, 741)
seasonal(0, (47, 431, 324, 540), 'PX主力基差（元/吨）', 403, 422, px_basis, -600, 800, 200)
seasonal(1, (408, 428, 685, 537), 'TA主力基差（元/吨）', 401, 419, ta_basis, -400, 600, 100)
seasonal(2, (766, 428, 1045, 537), 'EG主力基差（元/吨）', 401, 419, eg_basis, -300, 300, 100)
seasonal(0, (58, 606, 328, 714), 'PX 09-01月差（元/吨）', 578, 596, px_spread, -600, 800, 200)
seasonal(1, (408, 602, 685, 711), 'TA 09-01月差（元/吨）', 574, 592, ta_spread, -200, 500, 100)
seasonal(2, (766, 603, 1045, 711), 'EG 09-01月差（元/吨）', 575, 593, eg_spread, -400, 600, 200)

# ---------------- 三、区域及品种间价差 ----------------
section(742, 751, '三、区域及品种间价差')
table(751, [hdr_std] * 3, sec3_rows)
rect(0, 784, W - 1, 1137)
seasonal(0, (67, 827, 335, 936), 'PX：美亚价差（美元/吨）', 800, 817, px_asia, -100, 500, 100)
seasonal(1, (413, 827, 690, 936), 'TA 内外盘价差（元/吨）', 800, 817, ta_inout, -1200, 300, 300)
seasonal(2, (773, 827, 1050, 936), 'EG 进口利润（元/吨）', 800, 817, eg_import, -300, 100, 100)
seasonal(0, (55, 998, 332, 1105), 'PX-BZ（美元/吨）', 970, 988, px_bz, -200, 300, 100)
seasonal(1, (413, 997, 690, 1104), 'TA - EG（元/吨）', 970, 988, ta_eg, -500, 3000, 500)
seasonal(2, (773, 999, 1050, 1106), 'EG CFR东南亚-CFR中国（美元/吨）', 972, 989, eg_sea, -100, 150, 50)

# ---------------- 四、利润/加工费 ----------------
section(1138, 1150, '四、利润/加工费')
table(1150, [hdr_std] * 3, sec4_rows)
rect(0, 1182, W - 1, 1566)
seasonal(0, (54, 1225, 332, 1340), 'PXN（美元/吨）', 1195, 1215, pxn, 0, 500, 50)
seasonal(1, (413, 1225, 690, 1340), 'TA 现货加工差（元/吨）', 1195, 1215, ta_proc, -300, 1200, 300)
seasonal(2, (776, 1227, 1054, 1341), '煤制乙二醇坑口利润（元/吨）', 1197, 1217, eg_coal, -1000, 2500, 500)
seasonal(0, (54, 1419, 332, 1534), 'PX-MX（美元/吨）', 1388, 1409, px_mx, 0, 300, 50)
seasonal(1, (413, 1420, 690, 1534), 'TA 09合约加工差（元/吨）', 1389, 1410, ta_09proc, 0, 700, 100)
seasonal(2, (771, 1419, 1050, 1534), 'EG 石脑油一体化毛利（美元/吨）', 1388, 1409, eg_naph, -600, 0, 100)

# ---------------- 五、仓单 ----------------
section(1567, 1577, '五、仓单')
table(1577, [hdr_std] * 3, sec5_rows)
rect(0, 1598, W - 1, 1786)
warrant(0, (54, 1641, 303, 1764), 'PX', px_wr_basis, px_wr_qty, -500, 2000, 500, 12000, 2000, 12.4, comma=True)
warrant(1, (412, 1641, 662, 1764), 'TA', ta_wr_basis, ta_wr_qty, -400, 600, 100, 250000, 50000, 12.55)
warrant(2, (770, 1641, 1031, 1764), 'EG', eg_wr_basis, eg_wr_qty, -300, 300, 100, 18000, 2000, 12.9)

# ---------------- 六、库存 ----------------
section(1787, 1797, '六、库存')
table(1797, hdr_sec6, sec6_rows)
rect(0, 1828, W - 1, 2015)
seasonal(0, (67, 1872, 336, 1987), 'TA厂内库存天数', 1842, 1862, ta_days, 0, 10, 2)
seasonal(1, (412, 1872, 689, 1987), 'TA聚酯工厂库存天数', 1842, 1862, ta_poly_days, 0, 15, 3)
seasonal(2, (771, 1873, 1050, 1987), 'EG 华东港口库存', 1843, 1862, eg_port, 0, 120, 20)

# ---------------- 数据来源与法律声明 ----------------
rect(0, 2016, W - 1, 2027, fc='#f2f2f2', ec='#a6a6a6', lw=1.0)
txt(3, 2021.5, '数据来源：钢联、Wind、CCF、盛达期货研究院', 5.5, ha='left')
rect(4, 2032, 1066, 2268, ec='#c0c0c0', lw=0.8, ls=(0, (2, 2)))
txt(12, 2058, '【法律声明】', 9, ha='left', color='#e02020')
legal_lines = [
    (2083, 38, '盛达期货有限公司（以下简称“本公司”）。'),
    (2103, 38, '报告所引用信息和数据均来源于公开资料和合法渠道，本公司研究员力求报告内容和引用资料和数据的客观与公正，但不对所引用资料和数据本身的真实性、准确性和完整性做出保证，也不保证'),
    (2125, 10, '所包含的信息和建议不会发生任何变更。报告中的任何观点与建议仅代表报告当日对市场的判断。本报告仅供符合证监会、交易所适当性管理规定的期货交易者参考，且不构成对期货交易者的交易咨'),
    (2145, 10, '询建议。期货交易者根据本报告做出的任何投资决策及其所引致的任何后果，概与本公司及研究员无关。'),
    (2164, 38, '本公司的销售人员、交易人员以及其他专业人士可能会依据不同假设和标准、采用不同的分析方法而口头或书面发表与本报告意见及建议不一致的市场评论和/或交易观点，本公司没有将此意见'),
    (2185, 10, '及建议向报告所有接收者进行更新的义务。'),
    (2205, 38, '本报告版权归本公司所有，为非公开资料，未经本公司书面授权，任何人不得以任何形式传送、发布、复制本报告。本公司保留对任何侵权行为和有悖报告原意的引用行为进行追究的权利。未经'),
    (2226, 10, '授权的转载，本公司不承担任何转载责任。'),
]
for yy, xx, s in legal_lines:
    txt(xx, yy, s, 8.4, ha='left', color='#8c8c8c')

# 外框
line(0.5, 0, 0.5, H, c='#a6a6a6', lw=1.0)
line(W - 0.5, 0, W - 0.5, H, c='#a6a6a6', lw=1.0)
line(0, 2273, W, 2273, c='#a6a6a6', lw=1.0)

fig.savefig('out.png', dpi=100)
